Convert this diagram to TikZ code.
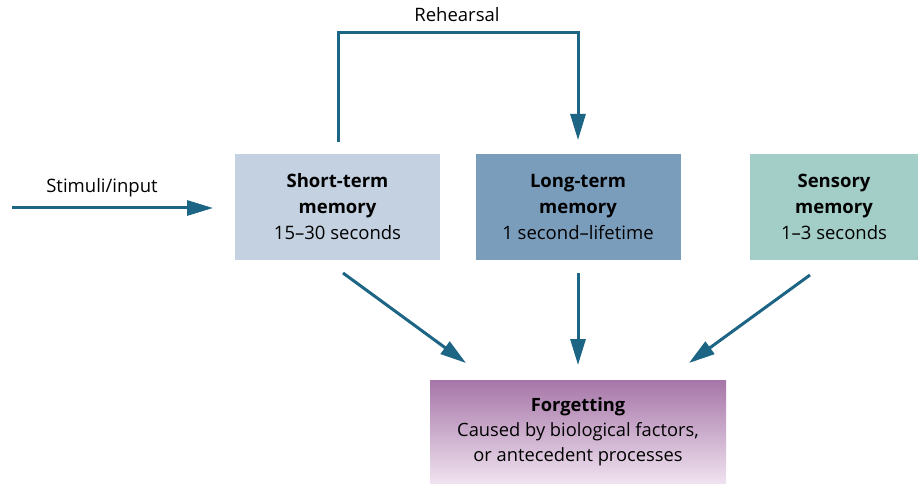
\documentclass[tikz,border=0pt]{standalone}
\usepackage{fontspec}
\setmainfont{Open Sans}
\usetikzlibrary{arrows.meta}
\definecolor{stm}{HTML}{C3D1E0}
\definecolor{ltm}{HTML}{7A9DBC}
\definecolor{sen}{HTML}{A3CEC8}
\definecolor{fgtop}{HTML}{A676A8}
\definecolor{fgbot}{HTML}{F0E3F0}
\definecolor{arr}{HTML}{1D6585}
\tikzset{
  membox/.style={minimum width=205pt,minimum height=106pt,inner sep=0pt,align=center,font=\fontsize{18.5}{26}\selectfont},
  conn/.style={draw=arr,line width=3pt,-{Triangle[length=26pt,width=15pt]}},
  lbl/.style={font=\fontsize{18.5}{20}\selectfont,inner sep=0pt}
}
\begin{document}
\begin{tikzpicture}[x=1pt,y=-1pt]
\useasboundingbox[fill=white] (0,0) rectangle (919,484);
\node[membox,fill=stm] (st) at (337.5,207) {\textbf{Short-term}\\\textbf{memory}\\15–30 seconds};
\node[membox,fill=ltm] (lt) at (578,207) {\textbf{Long-term}\\\textbf{memory}\\1 second–lifetime};
\node[membox,fill=sen,minimum width=168pt] (se) at (834,207) {\textbf{Sensory}\\\textbf{memory}\\1–3 seconds};
\node[minimum width=296pt,minimum height=104pt,inner sep=0pt,top color=fgtop,bottom color=fgbot,align=center,font=\fontsize{18.3}{25}\selectfont] (fg) at (578,432) {\textbf{Forgetting}\\Caused by biological factors,\\or antecedent processes};
\node[lbl] (reh) at (457,15) {Rehearsal};
\node[lbl] (stim) at (102,188) {Stimuli/input};
\coordinate (s0) at (12,208);
\coordinate (s1) at (213,208);
\draw[conn] (s0) -- (s1);
\coordinate (r0) at (338,142);
\coordinate (r1) at (338,33);
\coordinate (r2) at (578,33);
\coordinate (r3) at (578,140);
\draw[conn] (r0) -- (r1) -- (r2) -- (r3);
\coordinate (a0) at (343,273);
\coordinate (a1) at (466,363);
\draw[conn] (a0) -- (a1);
\coordinate (b0) at (578,273);
\coordinate (b1) at (578,365);
\draw[conn] (b0) -- (b1);
\coordinate (c0) at (810,275);
\coordinate (c1) at (689,363);
\draw[conn] (c0) -- (c1);
\end{tikzpicture}
\end{document}
